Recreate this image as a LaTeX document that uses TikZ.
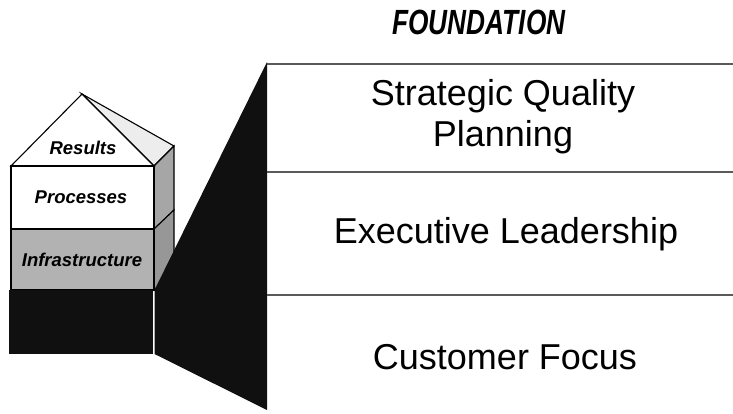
\documentclass[tikz,border=0pt]{standalone}
\usepackage{fontspec}
\setmainfont{Liberation Sans}
\definecolor{infragray}{HTML}{B2B2B2}
\definecolor{sideupper}{HTML}{A6A6A6}
\definecolor{sidelower}{HTML}{979797}
\definecolor{roofside}{HTML}{EDEDED}
\definecolor{solidbase}{HTML}{101010}
\definecolor{rulegray}{HTML}{5A5A5A}
\tikzset{
  edge/.style={draw=black, line width=1.1pt, line join=miter},
  tier/.style={font=\fontsize{36}{41}\selectfont, align=center, inner sep=0pt},
  block/.style={font=\fontsize{18.5}{20}\selectfont\bfseries\itshape, inner sep=0pt},
  rule/.style={draw=rulegray, line width=1.4pt},
}
\begin{document}
\begin{tikzpicture}[x=1pt, y=-1pt]
\useasboundingbox (0,0) rectangle (733,413);

% side faces of the house
\fill[roofside, edge] (82,94) -- (154,166) -- (174,146) -- cycle;
\fill[sideupper, edge] (154,166) -- (174,146) -- (174,210) -- (154,229) -- cycle;
\fill[sidelower, edge] (154,229) -- (174,210) -- (174,272) -- (154,290) -- cycle;

% front faces
\fill[white, edge] (11,166) -- (82,94) -- (154,166) -- cycle;
\fill[white, edge] (11,166) rectangle (154,229);
\fill[infragray, edge] (11,229) rectangle (154,290);
\fill[solidbase] (9,290) rectangle (152.5,354);

% wedge opening out to the foundation panel
\fill[solidbase] (267,62) -- (154.5,290) -- (154.5,354) -- (267,410) -- cycle;

% separators of the foundation panel
\coordinate (r1a) at (267,64);  \coordinate (r1b) at (733,64);
\coordinate (r2a) at (267,172); \coordinate (r2b) at (733,172);
\coordinate (r3a) at (267,295); \coordinate (r3b) at (733,295);
\draw[rule] (r1a) -- (r1b);
\draw[rule] (r2a) -- (r2b);
\draw[rule] (r3a) -- (r3b);

% labels
\node[block] (results) at (83,148) {Results};
\node[block] (processes) at (81,197) {Processes};
\node[block] (infra) at (82,260) {Infrastructure};

\node[font=\fontsize{35}{37}\selectfont\bfseries\itshape, xscale=0.75, inner sep=0pt] (found) at (479,22) {FOUNDATION};

\node[tier] (sqp) at (503,117) {Strategic Quality\\Planning};
\node[tier] (lead) at (506,234) {Executive Leadership};
\node[tier] (cust) at (505,357) {Customer Focus};
\end{tikzpicture}
\end{document}
